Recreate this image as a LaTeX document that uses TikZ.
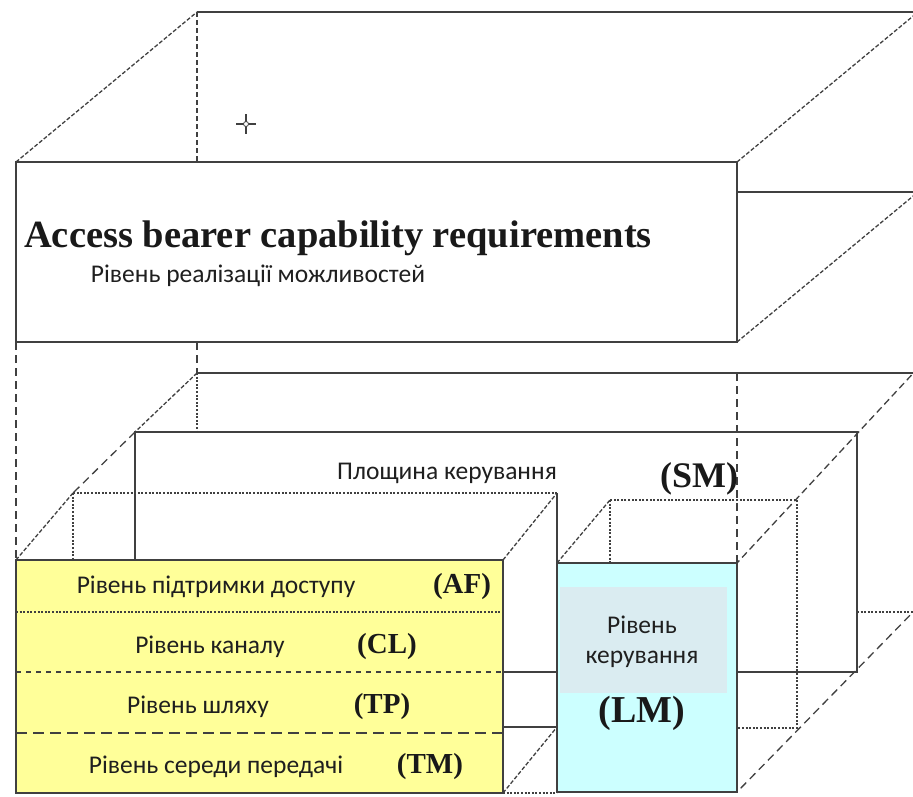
\documentclass[tikz,border=0pt]{standalone}
\usepackage{fontspec}
\setmainfont{Liberation Serif}
\newfontfamily\uafont{Carlito}
\usetikzlibrary{positioning}
\definecolor{edge}{RGB}{64,64,64}
\definecolor{stackfill}{RGB}{255,255,153}
\definecolor{lmfill}{RGB}{204,255,255}
\definecolor{lminner}{RGB}{218,236,241}

\begin{document}
\begin{tikzpicture}[x=1pt, y=-1pt, line width=1.3pt, color=edge,
    fine/.style={dash pattern=on 4pt off 2pt},
    longdash/.style={dash pattern=on 8pt off 5pt},
    hid/.style={dash pattern=on 2pt off 1.6pt},
    ua/.style={font=\uafont\fontsize{25.5}{28}\selectfont, text=black!88, inner sep=0pt, anchor=base},
    tag/.style={font=\bfseries\fontsize{29}{32}\selectfont, text=black!90, inner sep=0pt, anchor=base}]
    \useasboundingbox (0,0) rectangle (913,796);
    \clip (0,0) rectangle (913,796);
    % capability layer
    \draw (197,12) -- (920,12);
    \draw[fine] (16,162) -- (197,12);
    \draw[fine] (737,162) -- (918,12);
    \draw[dash pattern=on 5pt off 3pt] (197,12) -- (197,162);
    \draw[fill=white] (16,162) rectangle (737,342);
    \draw (737,192) -- (920,192);
    \draw[fine] (737,342) -- (918,192);
    \draw (236,124) -- (256,124) (246,114) -- (246,134);
    \draw[fill=white, line width=0.8pt] (246,124) circle (2.5);
    % control plane
    \draw[longdash] (16,342) -- (16,560);
    \draw[longdash] (197,342) -- (197,373);
    \draw (197,373) -- (920,373);
    \draw[hid] (197,373) -- (197,432);
    \draw[fine] (197,373) -- (135,432);
    \draw[longdash] (135,432) -- (73,493);
    \draw[fill=white] (135,432) rectangle (857,672);
    \draw[hid] (857,612) -- (920,612);
    \draw[longdash] (737,373) -- (737,563);
    \draw[dash pattern=on 7pt off 4pt] (919,367) -- (737,563);
    \draw[longdash] (919,606) -- (737,792);
    % stack
    \draw[hid] (73,493) -- (557,493) (73,493) -- (73,560);
    \draw (557,493) -- (557,727) (503,727) -- (557,727);
    \draw[fine] (16,560) -- (73,493) (503,560) -- (557,493) (503,793) -- (557,727);
    \draw[hid] (503,793) -- (557,793);
    \draw[fill=stackfill] (16,560) rectangle (503,793);
    \draw[hid] (16,612) -- (503,612);
    \draw[dash pattern=on 5pt off 5pt] (16,672) -- (503,672);
    \draw[dash pattern=on 11pt off 6pt] (16,733) -- (503,733);
    % management
    \draw[hid] (610,500) rectangle (797,728);
    \draw[fine] (557,563) -- (610,500);
    \draw[fill=lmfill] (557,563) rectangle (737,792);
    \fill[lminner] (560,587) rectangle (727,693);
    % labels
    \node[font=\bfseries\fontsize{38.5}{40}\selectfont, text=black!90, inner sep=0pt, anchor=base] (title) at (338,247) {Access bearer capability requirements};
    \node[ua] (caplayer) at (258,282) {Рівень реалізації можливостей};
    \node[ua] (ctlplane) at (447,479) {Площина керування};
    \node[tag, font=\bfseries\fontsize{36}{38}\selectfont] (sm) at (699,487) {(SM)};
    \node[ua] (af) at (216,593) {Рівень підтримки доступу};
    \node[tag] (aftag) at (462,593) {(AF)};
    \node[ua] (cl) at (210,653) {Рівень каналу};
    \node[tag] (cltag) at (387,653) {(CL)};
    \node[ua] (tp) at (198,713) {Рівень шляху};
    \node[tag] (tptag) at (382,713) {(TP)};
    \node[ua] (tm) at (216,773) {Рівень середи передачі};
    \node[tag] (tmtag) at (430,773) {(TM)};
    \node[ua] (lm1) at (642,633) {Рівень};
    \node[ua] (lm2) at (642,663) {керування};
    \node[tag, font=\bfseries\fontsize{38}{40}\selectfont] (lm) at (642,722) {(LM)};
\end{tikzpicture}
\end{document}
